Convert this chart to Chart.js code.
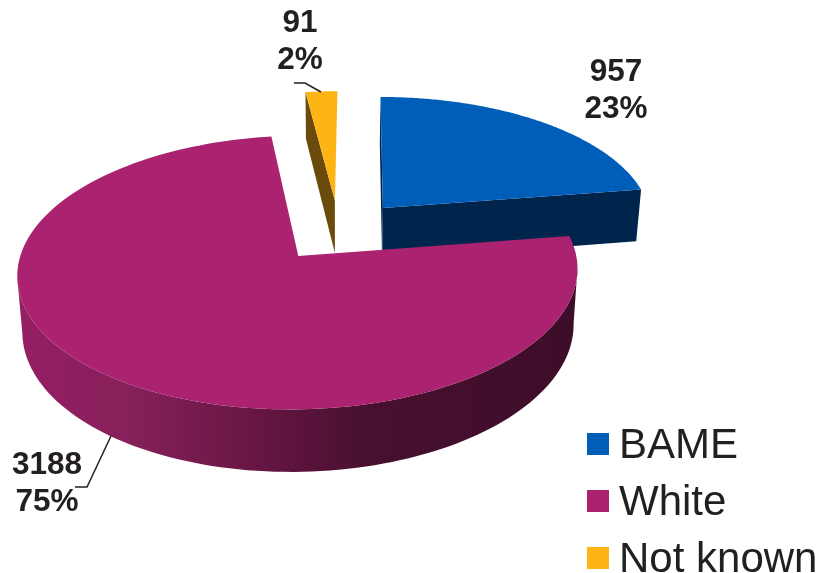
<!DOCTYPE html>
<html>
<head>
<meta charset="utf-8">
<title>Staff by ethnicity</title>
<script src="https://cdn.jsdelivr.net/npm/chart.js@4"></script>
<style>
    html, body { margin: 0; padding: 0; background: #fff; }
    canvas { display: block; }
</style>
</head>
<body>
<canvas id="pie-chart" width="820" height="573"></canvas>
<script>
// Chart data
const categories = ['BAME', 'White', 'Not known'];
const counts = [957, 3188, 91];

// Slice styles, same order as the categories
const faceColors = ['#015eb8', '#ab2370', '#fdb415'];
const sideColors = ['#00254d', '#4a0f30', '#6b4b0b'];

// How far each slice is pulled out of the pie, in radii
const explodeX = [0.086, -0.222, -0.095];
const explodeY = [0.372, 0, 0.43];

// Value label anchors and their leader lines
const labelX = [616, 47, 300];
const labelY = [81, 474, 32];
const leaderLines = [
    [],
    [[111, 436], [87, 487], [75, 487]],
    [[294, 83], [305, 83], [321, 92]]
];

// Gradient round the outer wall of the big slice
const wallStops = [
    [0, '#951f63'],
    [0.2, '#86205a'],
    [0.42, '#681644'],
    [0.62, '#481030'],
    [1, '#3d0d29']
];

// Camera used to lay the pie on its side
const camera = { vanishX: 360, horizonY: 256, radiusX: 278, radiusY: 135, perspective: 0.12, depth: 55, shrinkX: 336, shrink: 0.016 };

function project(x, y, z) {
    const s = 1 / (1 + camera.perspective * y);
    const px = camera.vanishX + camera.radiusX * x * s;
    return {
        x: px - (px - camera.shrinkX) * camera.shrink * z,
        y: camera.horizonY - camera.radiusY * y * s + camera.depth * z * s
    };
}

// Point on the rim of a slice; angle is the one stored on the arc element
function rimPoint(index, angle, z) {
    const theta = angle + Math.PI / 2;
    return project(explodeX[index] + Math.sin(theta), explodeY[index] + Math.cos(theta), z);
}

function apexPoint(index, z) {
    return project(explodeX[index], explodeY[index], z);
}

function fillPoints(ctx, points, color) {
    ctx.beginPath();
    points.forEach((p, i) => (i ? ctx.lineTo(p.x, p.y) : ctx.moveTo(p.x, p.y)));
    ctx.closePath();
    ctx.fillStyle = color;
    ctx.fill();
}

function rimAngles(arc) {
    const angles = [];
    const steps = 160;
    for (let i = 0; i <= steps; i++) {
        angles.push(arc.startAngle + (arc.endAngle - arc.startAngle) * i / steps);
    }
    return angles;
}

function drawSlice(ctx, index, arc) {
    const angles = rimAngles(arc);
    const top = angles.map(a => rimPoint(index, a, 0));

    // outer wall, between the rim's rightmost and leftmost points
    const hasFront = angles.some(a => Math.cos(a + Math.PI / 2) < 0);
    if (hasFront) {
        const xs = top.map(p => p.x);
        const from = xs.indexOf(Math.max(...xs));
        const to = xs.indexOf(Math.min(...xs));
        const wall = ctx.createLinearGradient(20, 0, 575, 0);
        wallStops.forEach(s => wall.addColorStop(s[0], s[1]));
        const front = angles.slice(from, to + 1);
        const upper = front.map(a => rimPoint(index, a, 0));
        const lower = front.map(a => rimPoint(index, a, 1)).reverse();
        fillPoints(ctx, upper.concat(lower), wall);
    }

    // cut faces, skipping any turned away from the viewer
    const apexTop = apexPoint(index, 0);
    const apexBottom = apexPoint(index, 1);
    if (-Math.sin(arc.startAngle + Math.PI / 2) > -1e-6) {
        fillPoints(ctx, [apexTop, top[0], rimPoint(index, arc.startAngle, 1), apexBottom], sideColors[index]);
    }
    if (Math.sin(arc.endAngle + Math.PI / 2) > 1e-6) {
        fillPoints(ctx, [apexTop, top[top.length - 1], rimPoint(index, arc.endAngle, 1), apexBottom], sideColors[index]);
    }

    // top face
    fillPoints(ctx, [apexTop].concat(top), faceColors[index]);
}

const tiltedPie = {
    id: 'tiltedPie',
    // slices are painted here instead of the flat arcs, back ones first
    beforeDatasetDraw(chart) {
        const ctx = chart.ctx;
        const arcs = chart.getDatasetMeta(0).data;
        const order = arcs.map((arc, i) => i).sort((a, b) => explodeY[b] - explodeY[a]);
        ctx.save();
        order.forEach(i => drawSlice(ctx, i, arcs[i]));
        ctx.restore();
        return false;
    },
    afterDatasetsDraw(chart) {
        const ctx = chart.ctx;
        const values = chart.data.datasets[0].data;
        const total = values.reduce((a, b) => a + b, 0);
        ctx.save();
        ctx.textAlign = 'center';
        ctx.textBaseline = 'alphabetic';
        ctx.fillStyle = '#231f20';
        ctx.font = 'bold 31.5px "Liberation Sans"';
        values.forEach((value, i) => {
            ctx.fillText(String(value), labelX[i], labelY[i]);
            ctx.fillText(Math.round(value / total * 100) + '%', labelX[i], labelY[i] + 37);
        });

        ctx.strokeStyle = '#231f20';
        ctx.lineWidth = 1.5;
        leaderLines.forEach(line => {
            ctx.beginPath();
            line.forEach((p, i) => (i ? ctx.lineTo(p[0], p[1]) : ctx.moveTo(p[0], p[1])));
            ctx.stroke();
        });

        // legend in the bottom right corner
        ctx.textAlign = 'left';
        ctx.font = '42px "Liberation Sans"';
        chart.data.labels.forEach((label, i) => {
            ctx.fillStyle = faceColors[i];
            ctx.fillRect(587, 433 + i * 57, 22, 22);
            ctx.fillStyle = '#231f20';
            ctx.fillText(label, 619, 458 + i * 57);
        });
        ctx.restore();
    }
};

const pieChart = new Chart(document.getElementById('pie-chart').getContext('2d'), {
    type: 'pie',
    data: {
        labels: categories,
        datasets: [{
            data: counts,
            backgroundColor: faceColors,
            borderWidth: 0
        }]
    },
    options: {
        responsive: false,
        animation: false,
        plugins: {
            legend: { display: false },
            tooltip: { enabled: false }
        }
    },
    plugins: [tiltedPie]
});
</script>
</body>
</html>
